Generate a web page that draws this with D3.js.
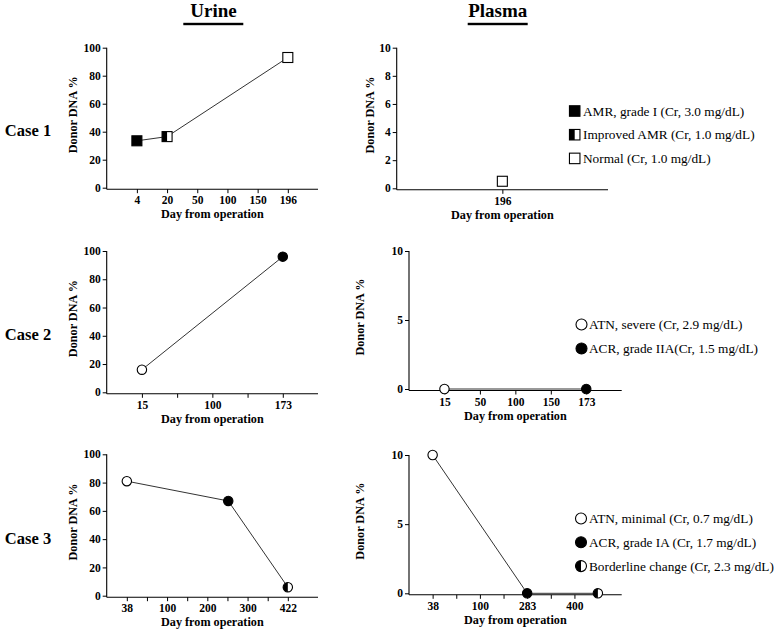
<!DOCTYPE html>
<meta charset="utf-8">
<html>
<head>
<style>
  body { margin: 0; background: #fff; }
  text { font-family: "Liberation Serif", "Times New Roman", serif; }
</style>
</head>
<body>
<div id="chart"></div>
<script src="https://d3js.org/d3.v7.min.js"></script>
<script>

// ---- data ----
var urineYTicks = [0, 20, 40, 60, 80, 100];
var plasma1YTicks = [0, 2, 4, 6, 8, 10];
var plasmaYTicks = [0, 5, 10];

// case 1
var case1UrineTicks = [4, 20, 50, 100, 150, 196];
var case1UrineDays = [4, 20, 196];
var case1UrineDNA = [33.5, 36.5, 93];
var case1UrineMarks = ["filled", "half", "open"];
var case1PlasmaTicks = [196];
var case1PlasmaDays = [196];
var case1PlasmaDNA = [0.5];
var case1PlasmaMarks = ["open"];
var case1Legend = ["AMR, grade I (Cr, 3.0 mg/dL)", "Improved AMR (Cr, 1.0 mg/dL)", "Normal (Cr, 1.0 mg/dL)"];
var case1LegendMarks = ["filled", "half", "open"];

// case 2
var case2UrineTicks = [15, 100, 173];
var case2UrineDays = [15, 173];
var case2UrineDNA = [16, 96];
var case2UrineMarks = ["open", "filled"];
var case2PlasmaTicks = [15, 50, 100, 150, 173];
var case2PlasmaDays = [15, 173];
var case2PlasmaDNA = [0, 0];
var case2PlasmaMarks = ["open", "filled"];
var case2Legend = ["ATN, severe (Cr, 2.9 mg/dL)", "ACR, grade IIA(Cr, 1.5 mg/dL)"];
var case2LegendMarks = ["open", "filled"];

// case 3
var case3UrineTicks = [38, 100, 200, 300, 422];
var case3UrineDays = [38, 252, 422];
var case3UrineDNA = [81, 67, 6];
var case3UrineMarks = ["open", "filled", "half"];
var case3PlasmaTicks = [38, 100, 283, 400];
var case3PlasmaDays = [38, 283, 458];
var case3PlasmaDNA = [10, 0, 0];
var case3PlasmaMarks = ["open", "filled", "half"];
var case3Legend = ["ATN, minimal (Cr, 0.7 mg/dL)", "ACR, grade IA (Cr, 1.7 mg/dL)", "Borderline change (Cr, 2.3 mg/dL)"];
var case3LegendMarks = ["open", "filled", "half"];

var caseNames = ["Case 1", "Case 2", "Case 3"];

// ---- layout ----
var W = 781, H = 630;
var svg = d3.select("#chart").append("svg")
  .attr("width", W).attr("height", H);

var panels = [
  {days: case1UrineDays, dna: case1UrineDNA, marks: case1UrineMarks, shape: "square", ticks: case1UrineTicks,
   yTicks: urineYTicks, yMax: 100, x0: 106.7, x1: 318, yTop: 47.7, yBot: 187.7, slots: 7, gap: 1, titleX: 73},
  {days: case1PlasmaDays, dna: case1PlasmaDNA, marks: case1PlasmaMarks, shape: "square", ticks: case1PlasmaTicks,
   yTicks: plasma1YTicks, yMax: 10, x0: 396.7, x1: 608, yTop: 47.7, yBot: 188.3, slots: 2, gap: 1, titleX: 370},
  {days: case2UrineDays, dna: case2UrineDNA, marks: case2UrineMarks, shape: "circle", ticks: case2UrineTicks,
   yTicks: urineYTicks, yMax: 100, x0: 106.7, x1: 318, yTop: 251, yBot: 392.3, slots: 6, gap: 2, titleX: 73},
  {days: case2PlasmaDays, dna: case2PlasmaDNA, marks: case2PlasmaMarks, shape: "circle", ticks: case2PlasmaTicks,
   yTicks: plasmaYTicks, yMax: 10, x0: 409, x1: 621.7, yTop: 251, yBot: 389, slots: 6, gap: 1, titleX: 359.5},
  {days: case3UrineDays, dna: case3UrineDNA, marks: case3UrineMarks, shape: "circle", ticks: case3UrineTicks,
   yTicks: urineYTicks, yMax: 100, x0: 106.7, x1: 318, yTop: 454.3, yBot: 595.7, slots: 10.5, gap: 2, titleX: 73},
  {days: case3PlasmaDays, dna: case3PlasmaDNA, marks: case3PlasmaMarks, shape: "circle", ticks: case3PlasmaTicks,
   yTicks: plasmaYTicks, yMax: 10, x0: 409, x1: 621.7, yTop: 455, yBot: 593.3, slots: 9, gap: 2, titleX: 359.5}
];

var legends = [
  {labels: case1Legend, marks: case1LegendMarks, shape: "square", mx: 574.7, tx: 583, y0: 111, dy: 23.7},
  {labels: case2Legend, marks: case2LegendMarks, shape: "circle", mx: 581.5, tx: 589, y0: 324.5, dy: 24},
  {labels: case3Legend, marks: case3LegendMarks, shape: "circle", mx: 581, tx: 589, y0: 518.5, dy: 23.8}
];

// draw one marker (filled / half / open) as square or circle
function drawMarker(g, shape, state, cx, cy, size) {
  var h = size / 2;
  if (shape == "square") {
    g.append("rect").attr("x", cx - h).attr("y", cy - h).attr("width", size).attr("height", size)
      .attr("fill", state == "filled" ? "#000" : "#fff");
    if (state == "half")
      g.append("rect").attr("x", cx - h).attr("y", cy - h).attr("width", h).attr("height", size).attr("fill", "#000");
    g.append("rect").attr("x", cx - h).attr("y", cy - h).attr("width", size).attr("height", size)
      .attr("fill", "none").attr("stroke", "#000").attr("stroke-width", 1.1);
  } else {
    g.append("circle").attr("cx", cx).attr("cy", cy).attr("r", h)
      .attr("fill", state == "filled" ? "#000" : "#fff");
    if (state == "half")
      g.append("path")
        .attr("d", "M" + cx + "," + (cy - h) + " A" + h + "," + h + " 0 0,0 " + cx + "," + (cy + h) + " Z")
        .attr("fill", "#000");
    g.append("circle").attr("cx", cx).attr("cy", cy).attr("r", h)
      .attr("fill", "none").attr("stroke", "#000").attr("stroke-width", 1.1);
  }
}

// column headers
[["Urine", 213.5, 183.3, 243.3], ["Plasma", 497.8, 467.7, 527.7]].forEach(function(c) {
  svg.append("text").attr("x", c[1]).attr("y", 17).attr("text-anchor", "middle")
    .attr("font-size", 19).attr("font-weight", "bold").text(c[0]);
  svg.append("rect").attr("x", c[2]).attr("y", 22.8).attr("width", c[3] - c[2]).attr("height", 2.4).attr("fill", "#000");
});

// case labels
caseNames.forEach(function(name, i) {
  var p = panels[i * 2];
  svg.append("text").attr("x", 28).attr("y", (p.yTop + p.yBot) / 2 + 13).attr("dy", "0.35em")
    .attr("text-anchor", "middle").attr("font-size", 16.5).attr("font-weight", "bold").text(name);
});

panels.forEach(function(p) {
  var g = svg.append("g");
  var step = (p.x1 - p.x0) / p.slots;

  // piecewise x scale: labelled days sit at evenly spaced positions
  var x;
  if (p.ticks.length == 1) {
    var c = p.x0 + step;
    x = d3.scaleLinear().domain([p.ticks[0] - 1, p.ticks[0] + 1]).range([c - step, c + step]);
  } else {
    x = d3.scaleLinear().domain(p.ticks)
      .range(p.ticks.map(function(d, i) { return p.x0 + (1 + i * p.gap) * step; }));
  }
  var y = d3.scaleLinear().domain([0, p.yMax]).range([p.yBot, p.yTop]);
  var axisY = p.yBot + 1.5;

  var minor = [];
  if (p.gap == 2) {
    for (var i = 0; i < p.ticks.length - 1; i++) minor.push(x.invert(p.x0 + (2 + 2 * i) * step));
  }

  // x axis
  var gx = g.append("g").attr("transform", "translate(0," + axisY + ")")
    .call(d3.axisBottom(x).tickValues(p.ticks.concat(minor)).tickSize(4).tickPadding(3)
      .tickFormat(function(d) { return p.ticks.indexOf(d) >= 0 ? d : ""; }));
  gx.select(".domain").remove();
  gx.selectAll("text").attr("font-size", 11.5).attr("font-weight", "bold").attr("fill", "#000");
  gx.selectAll("line").attr("stroke", "#000");
  g.append("line").attr("x1", p.x0).attr("x2", p.x1).attr("y1", axisY).attr("y2", axisY)
    .attr("stroke", "#000").attr("stroke-width", 1.1);

  // y axis
  var gy = g.append("g").attr("transform", "translate(" + p.x0 + ",0)")
    .call(d3.axisLeft(y).tickValues(p.yTicks).tickSize(4).tickPadding(2));
  gy.select(".domain").remove();
  gy.selectAll("text").attr("font-size", 11.5).attr("font-weight", "bold").attr("fill", "#000");
  gy.selectAll("line").attr("stroke", "#000");
  g.append("line").attr("x1", p.x0).attr("x2", p.x0).attr("y1", p.yTop).attr("y2", axisY)
    .attr("stroke", "#000").attr("stroke-width", 1.1);

  // axis titles
  g.append("text").attr("x", (p.x0 + p.x1) / 2).attr("y", axisY + 29)
    .attr("text-anchor", "middle").attr("font-size", 12.2).attr("font-weight", "bold")
    .text("Day from operation");
  g.append("text").attr("transform", "translate(" + p.titleX + "," + ((p.yTop + p.yBot) / 2 - 3) + ") rotate(-90)")
    .attr("text-anchor", "middle").attr("dy", "0.35em").attr("font-size", 12.2).attr("font-weight", "bold")
    .text("Donor DNA %");

  // data
  var pts = p.days.map(function(d, i) { return {day: d, v: p.dna[i], mark: p.marks[i]}; });
  if (pts.length > 1) {
    g.append("path").datum(pts)
      .attr("fill", "none").attr("stroke", "#333").attr("stroke-width", 1)
      .attr("d", d3.line().x(function(d) { return x(d.day); }).y(function(d) { return y(d.v); }));
  }
  pts.forEach(function(d) {
    drawMarker(g, p.shape, d.mark, x(d.day), y(d.v), p.shape == "square" ? 10 : 9.4);
  });
});

// legends
legends.forEach(function(L) {
  var g = svg.append("g");
  L.labels.forEach(function(lab, i) {
    var cy = L.y0 + i * L.dy;
    drawMarker(g, L.shape, L.marks[i], L.mx, cy, L.shape == "square" ? 10.5 : 11);
    g.append("text").attr("x", L.tx).attr("y", cy).attr("dy", "0.35em")
      .attr("font-size", 13.3).text(lab);
  });
});

</script>
</body>
</html>
